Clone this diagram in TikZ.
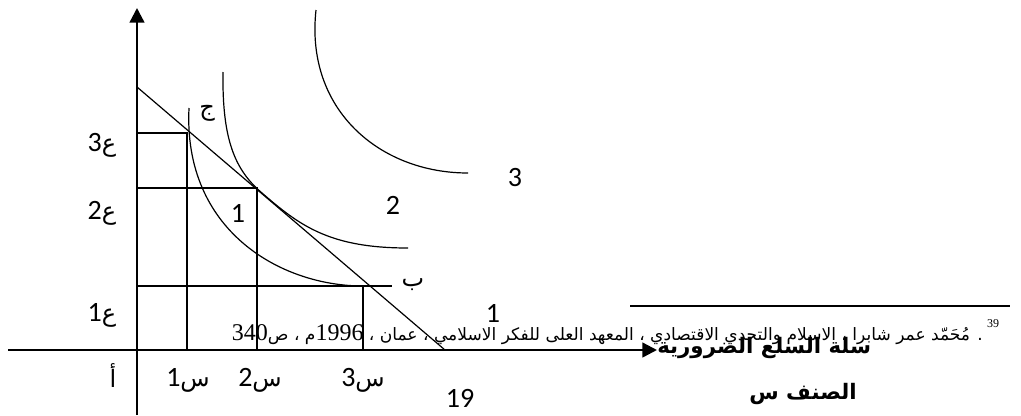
\documentclass[tikz,border=0pt]{standalone}
\usepackage{fontspec}
\usetikzlibrary{arrows.meta}
\TeXXeTstate=1
\newfontfamily\arabicfont[Script=Arabic]{DejaVu Sans}
\newfontfamily\digitfont{Carlito}
\newfontfamily\notefont{Liberation Serif}
\tikzset{
  axisline/.style={line width=1.8pt, -{Triangle[length=11pt, width=11pt]}},
  curveline/.style={line width=0.9pt},
  guide/.style={line width=0.9pt},
  numlbl/.style={font=\digitfont\fontsize{21}{24}\selectfont, inner sep=0pt},
  arlbl/.style={font=\arabicfont\fontsize{18}{21}\selectfont, inner sep=0pt},
  boldlbl/.style={font=\arabicfont\bfseries\fontsize{16}{19}\selectfont, inner sep=0pt},
}
\newcommand{\dg}[1]{{\digitfont\fontsize{21}{24}\selectfont #1}}

\begin{document}
\begin{tikzpicture}[x=0.75pt, y=-0.75pt]
  \useasboundingbox (0,0) rectangle (1021,415);
  % axes
  \coordinate (ybot) at (137,415);
  \coordinate (ytop) at (137,8);
  \coordinate (xleft) at (8,350);
  \coordinate (xend) at (657,350);
  \draw[axisline] (ybot) -- (ytop);
  \draw[axisline] (xleft) -- (xend);
  % budget line
  \coordinate (budA) at (137,87);
  \coordinate (budB) at (445,350);
  \draw[curveline] (budA) -- (budB);
  % guide lines to the axes
  \draw[guide] (137,133) -| (187,350);
  \draw[guide] (137,188) -| (257,350);
  \draw[guide] (137,286) -- (392,286);
  \draw[guide] (363,286) -- (363,350);
  % indifference curves
  \draw[curveline] (189,108) .. controls (183,230) and (280,286) .. (363,286);
  \draw[curveline] (223,72) .. controls (222,140) and (235,170) .. (262,193)
    .. controls (300,226) and (330,248) .. (408,248);
  \draw[curveline] (316,10) .. controls (305,110) and (380,173) .. (468,173);
  % axis labels
  \node[arlbl] (ey3) at (102,145) {\beginR ع\dg{3}\endR};
  \node[arlbl] (ey2) at (102,213) {\beginR ع\dg{2}\endR};
  \node[arlbl] (ey1) at (102,315) {\beginR ع\dg{1}\endR};
  \node[arlbl] (alif) at (113,376) {أ};
  \node[arlbl] (sx1) at (188,380) {\beginR س\dg{1}\endR};
  \node[arlbl] (sx2) at (260,380) {\beginR س\dg{2}\endR};
  \node[arlbl] (sx3) at (363,380) {\beginR س\dg{3}\endR};
  % point and curve labels
  \node[arlbl] (jim) at (207,113) {ج};
  \node[arlbl] (ba) at (413,285) {ب};
  \node[numlbl] (ic1) at (238,213) {1};
  \node[numlbl] (ic2) at (393,205) {2};
  \node[numlbl] (ic3) at (515,178) {3};
  \node[numlbl] (one) at (493,313) {1};
  \node[numlbl] (page) at (460,398) {19};
  \node[boldlbl, anchor=west] (basket) at (657,348) {\beginR سلة السلع الضرورية\endR};
  \node[boldlbl] (kind) at (803,394) {\beginR الصنف س\endR};
  % footnote
  \draw[line width=1pt] (630,306) -- (1010,306);
  \node[font=\notefont\fontsize{9}{10}\selectfont, inner sep=0pt] (fnmark) at (993,324) {39};
  \node[font=\arabicfont\fontsize{12.8}{14}\selectfont, inner sep=0pt, anchor=base east] (fntext) at (983,340)
    {\beginR . مُحَمّد عمر شابرا ، الاسلام والتحدي الاقتصادي ، المعهد العلى للفكر الاسلامي ، عمان ، {\notefont\fontsize{18}{18}\selectfont\beginL 1996\endL}م ، ص{\notefont\fontsize{18}{18}\selectfont\beginL 340\endL}\endR};
\end{tikzpicture}
\end{document}
